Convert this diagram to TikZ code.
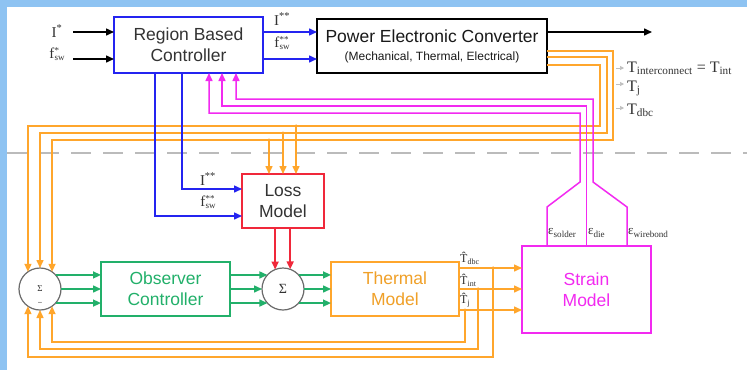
\documentclass[tikz,border=0pt]{standalone}
\usepackage{fontspec}
\setmainfont{Liberation Sans}
\newfontfamily\serf{Liberation Serif}
\usetikzlibrary{arrows.meta,calc}
\definecolor{bgblue}{HTML}{8EC3F2}
\definecolor{cblue}{HTML}{2424F0}
\definecolor{cmag}{HTML}{F22AF0}
\definecolor{corg}{HTML}{FFA62C}
\definecolor{ctherm}{HTML}{F0A028}
\definecolor{cgrn}{HTML}{22B06A}
\definecolor{cred}{HTML}{F0283A}
\definecolor{cdash}{HTML}{BBBBBB}
\definecolor{ccirc}{HTML}{6A6A6A}
\definecolor{ctxt}{HTML}{333333}
\newcommand\fss[1]{f\kern0.3pt\raisebox{-0.35ex}{\fontsize{9}{9}\selectfont\begin{tabular}[b]{@{}l@{}}#1\\[-1.5pt]sw\end{tabular}}}
\begin{document}
\begin{tikzpicture}[x=1pt,y=-1pt,
  >={Triangle[length=8pt,width=7pt]},
  bx/.style={draw,line width=1.8pt,inner sep=0pt,outer sep=0pt,align=center,text=ctxt,font=\fontsize{17.5}{21}\selectfont},
  sig/.style={circle,draw=ccirc,line width=1.2pt,minimum size=42pt,inner sep=0pt,outer sep=0pt,text=ctxt},
  sl/.style={font=\serf\fontsize{15}{17}\selectfont,inner sep=0pt,text=ctxt},
  smalllbl/.style={font=\serf\fontsize{12}{12}\selectfont,inner sep=0pt,text=ctxt,anchor=west},
  rlbl/.style={font=\serf\fontsize{16}{16}\selectfont,inner sep=0pt,text=ctxt,anchor=base west},
  lk/.style={line width=1.5pt},
  jdot/.style={circle,fill=corg,inner sep=0pt,minimum size=3.5pt}
]
\useasboundingbox (0,0) rectangle (747,370);
\fill[bgblue] (0,0) rectangle (747,370);
\fill[white] (7,7) rectangle (747,370);
\draw[cdash,line width=1.5pt,dash pattern=on 20pt off 12pt] (7,153) -- (747,153);

% boxes
\node[bx,draw=cblue,minimum width=149pt,minimum height=56pt] (rbc) at (188.5,45) {Region Based\\Controller};
\node[bx,draw=black,text=black!90,minimum width=230pt,minimum height=54pt] (pec) at (432,46) {Power Electronic Converter\\[-3pt]{\fontsize{12}{13}\selectfont(Mechanical, Thermal, Electrical)}};
\node[bx,draw=cred,minimum width=82pt,minimum height=54pt] (loss) at (283,201) {Loss\\Model};
\node[bx,draw=cgrn,text=cgrn,minimum width=129pt,minimum height=54pt] (oc) at (165.5,289) {Observer\\Controller};
\node[bx,draw=corg,text=ctherm,minimum width=128pt,minimum height=54pt] (tm) at (395,289) {Thermal\\Model};
\node[bx,draw=cmag,text=cmag,minimum width=129pt,minimum height=87pt] (sm) at (586.5,289.5) {Strain\\Model};
\node[sig] (s1) at (40,289) {\serf\fontsize{9}{9}\selectfont Σ};
\node[inner sep=0pt,text=ctxt,font=\fontsize{7}{7}\selectfont] (s1m) at (40,303) {–};
\node[sig] (s2) at (283,289) {\serf\fontsize{14}{14}\selectfont Σ};

% inputs
\coordinate (i1) at (73,32);
\coordinate (i2) at (73,59);
\draw[lk,->] (i1) -- (rbc.west |- i1);
\draw[lk,->] (i2) -- (rbc.west |- i2);
\node[sl] (li1) at (57,31) {I\textsuperscript{*}};
\node[sl] (li2) at (57,55) {\fss{*}};

% RBC -> PEC
\draw[lk,cblue,->] (rbc.east |- 0,32) -- (pec.west |- 0,32);
\draw[lk,cblue,->] (rbc.east |- 0,59) -- (pec.west |- 0,59);
\node[sl] (lo1) at (282,19) {I\textsuperscript{**}};
\node[sl] (lo2) at (282,44) {\fss{**}};

% PEC output
\coordinate (out) at (652,32);
\draw[lk,->] (pec.east |- out) -- (out);

% measured temperatures labels
\node[rlbl] (lt1) at (627,72) {T\textsubscript{interconnect} = T\textsubscript{int}};
\node[rlbl] (lt2) at (627,91) {T\textsubscript{j}};
\node[rlbl] (lt3) at (627,114) {T\textsubscript{dbc}};
\coordinate (g1) at (616,68); \coordinate (g2) at (616,84); \coordinate (g3) at (616,108);
\foreach \g in {g1,g2,g3}
  \draw[black!25,line width=0.7pt,-{Triangle[length=4pt,width=4pt]}] (\g) -- ++(8,0);

% orange feedback from PEC to sum 1 and loss model
\coordinate (j1) at (269,140);
\coordinate (j2) at (283,133);
\coordinate (j3) at (296,126);
\draw[lk,corg,->] (pec.east |- 0,51) -| (613,140) -| (s1.55);
\draw[lk,corg,->] (pec.east |- 0,57) -| (607,133) -| (s1.north);
\draw[lk,corg,->] (pec.east |- 0,65) -| (600,126) -| (s1.125);
\draw[lk,corg,->] (j1) -- (loss.north -| j1);
\draw[lk,corg,->] (j2) -- (loss.north -| j2);
\draw[lk,corg,->] (j3) -- (loss.north -| j3);
\foreach \j in {j1,j2,j3} \node[jdot] at (\j) {};

% magenta strain feedback
\draw[lk,cmag,->] (sm.north -| 547,0) -- (547,207) -- (580,182) |- (209,113) -- (rbc.south -| 209,0);
\draw[lk,cmag,->] (sm.north) |- (222,106) -- (rbc.south -| 222,0);
\draw[lk,cmag,->] (sm.north -| 627,0) -- (627,207) -- (593,182) |- (236,99) -- (rbc.south -| 236,0);
\node[smalllbl,font=\serf\fontsize{13}{13}\selectfont] (e1) at (548,233) {ε\textsubscript{solder}};
\node[smalllbl,font=\serf\fontsize{13}{13}\selectfont] (e2) at (588,233) {ε\textsubscript{die}};
\node[smalllbl,font=\serf\fontsize{13}{13}\selectfont] (e3) at (628,233) {ε\textsubscript{wirebond}};

% blue to loss model
\draw[lk,cblue,->] (rbc.south -| 182,0) |- (loss.west |- 0,189);
\draw[lk,cblue,->] (rbc.south -| 155,0) |- (loss.west |- 0,216);
\node[sl] (ll1) at (208,179) {I\textsuperscript{**}};
\node[sl] (ll2) at (208,203) {\fss{**}};

% loss to sum 2
\draw[line width=1.8pt,cred,->] (loss.south -| s2.112) -- (s2.112);
\draw[line width=1.8pt,cred,->] (loss.south -| s2.70) -- (s2.70);

% green signals
\foreach \a/\b in {42/138,0/180,-42/222}{
  \draw[lk,cgrn,->] (s1.\a) -- (oc.west |- s1.\a);
  \draw[lk,cgrn,->] (oc.east |- s2.\b) -- (s2.\b);
  \draw[lk,cgrn,->] (s2.\a) -- (tm.west |- s2.\a);
}

% thermal outputs
\draw[lk,corg,->] (tm.east |- 0,268) -- (sm.west |- 0,268);
\draw[lk,corg,->] (tm.east |- 0,289) -- (sm.west |- 0,289);
\draw[lk,corg,->] (tm.east |- 0,310) -- (sm.west |- 0,310);
\node[smalllbl] (th1) at (460,258) {\^{T}\textsubscript{dbc}};
\node[smalllbl] (th2) at (460,280) {\^{T}\textsubscript{int}};
\node[smalllbl] (th3) at (460,300) {\^{T}\textsubscript{j}};
\coordinate (k1) at (493,268);
\coordinate (k2) at (478,289);
\coordinate (k3) at (465,310);
\draw[lk,corg,->] (k1) |- (s1.235 |- 0,357) -- (s1.235);
\draw[lk,corg,->] (k2) |- (s1.south |- 0,349) -- (s1.south);
\draw[lk,corg,->] (k3) |- (s1.305 |- 0,342) -- (s1.305);
\foreach \k in {k1,k2,k3} \node[jdot] at (\k) {};
\end{tikzpicture}
\end{document}
